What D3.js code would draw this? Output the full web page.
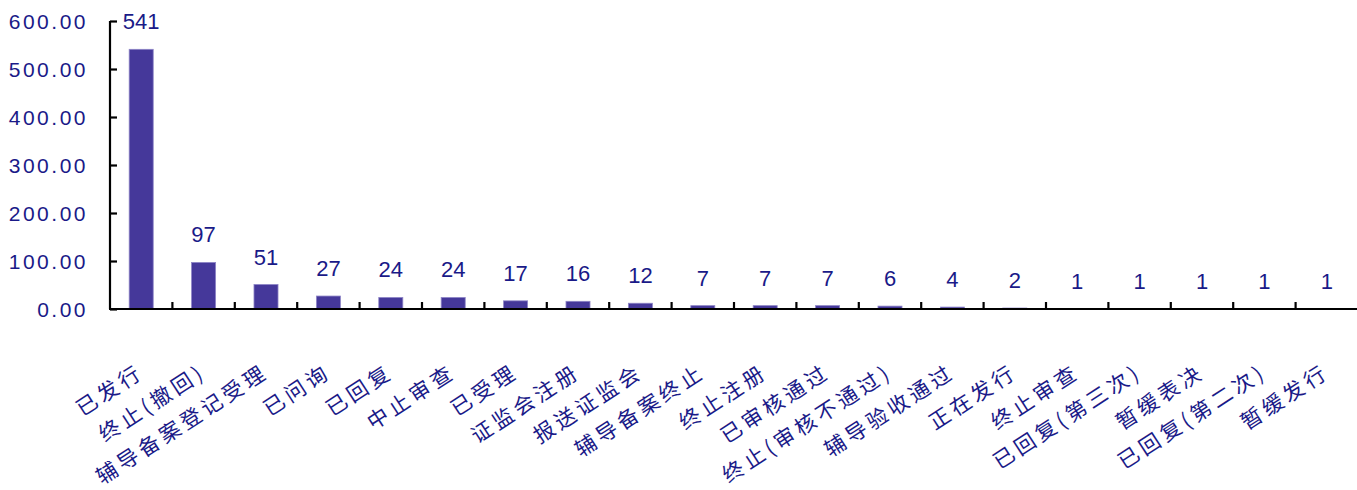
<!DOCTYPE html>
<html>
<head>
<meta charset="utf-8">
<script src="https://cdn.jsdelivr.net/npm/d3@7"></script>
<style>
  html, body { margin: 0; padding: 0; background: #fff; }
  svg { display: block; }
</style>
</head>
<body>
<svg id="chart" width="1357" height="490"></svg>
<script>
const categories = ["已发行","终止(撤回)","辅导备案登记受理","已问询","已回复","中止审查","已受理","证监会注册","报送证监会","辅导备案终止","终止注册","已审核通过","终止(审核不通过)","辅导验收通过","正在发行","终止审查","已回复(第三次)","暂缓表决","已回复(第二次)","暂缓发行"];
const values = [541,97,51,27,24,24,17,16,12,7,7,7,6,4,2,1,1,1,1,1];
const yTicks = [0,100,200,300,400,500,600];

const svg = d3.select("#chart");
const textColor = "#1a1a88";
const barColor = "#45389a";

const x0 = 110, x1 = 1358, yBase = 309, yTop = 21;
const x = d3.scaleBand().domain(categories).range([x0, x1]).padding(0);
const y = d3.scaleLinear().domain([0, 600]).range([yBase, yTop]);
const barW = x.bandwidth() * 0.385;

// bars
svg.append("g").selectAll("rect").data(categories).join("rect")
  .attr("x", d => x(d) + x.bandwidth()/2 - barW/2)
  .attr("y", (d,i) => y(values[i]))
  .attr("width", barW)
  .attr("height", (d,i) => yBase - y(values[i]))
  .attr("fill", barColor)
  .attr("stroke", "#8d84c6")
  .attr("stroke-width", 0.8);

// value labels
svg.append("g").selectAll("text").data(categories).join("text")
  .attr("x", d => x(d) + x.bandwidth()/2)
  .attr("y", (d,i) => y(values[i]) - 20)
  .attr("text-anchor", "middle")
  .attr("font-family", "Liberation Sans, Arial, sans-serif")
  .attr("font-size", 22)
  .attr("fill", textColor)
  .text((d,i) => values[i]);

// y axis
const yAxis = d3.axisRight(y).tickValues(yTicks).tickSize(7).tickFormat("");
const gy = svg.append("g").attr("transform", `translate(${x0},0)`).call(yAxis);
gy.select(".domain").attr("stroke", "#000").attr("stroke-width", 2.2).attr("d", `M0,${yTop}V${yBase}`);
gy.selectAll(".tick line").attr("stroke", "#000").attr("stroke-width", 2.2);

svg.append("g").selectAll("text").data(yTicks).join("text")
  .attr("x", 88)
  .attr("y", d => y(d))
  .attr("dy", "0.36em")
  .attr("text-anchor", "end")
  .attr("font-family", "Liberation Sans, Arial, sans-serif")
  .attr("font-size", 21)
  .attr("letter-spacing", 2.5)
  .attr("fill", textColor)
  .text(d => d3.format(".2f")(d));

// x axis: line and boundary ticks
const gx = svg.append("g").attr("transform", `translate(0,${yBase})`);
gx.append("line").attr("x1", x0 - 1).attr("x2", 1357).attr("y1", 0).attr("y2", 0)
  .attr("stroke", "#000").attr("stroke-width", 2.2);
gx.selectAll(".bt").data(categories.slice(1)).join("line")
  .attr("class", "bt")
  .attr("x1", d => x(d)).attr("x2", d => x(d))
  .attr("y1", 0).attr("y2", -7)
  .attr("stroke", "#000").attr("stroke-width", 2.2);

// category labels
svg.append("g").selectAll("text").data(categories).join("text")
  .attr("transform", d => `translate(${x(d) + x.bandwidth()/2 + 4},376) rotate(-33)`)
  .attr("text-anchor", "end")
  .attr("font-family", "Noto Sans CJK SC, sans-serif")
  .attr("font-size", 21)
  .attr("letter-spacing", 4)
  .attr("fill", textColor)
  .text(d => d);
</script>
</body>
</html>
